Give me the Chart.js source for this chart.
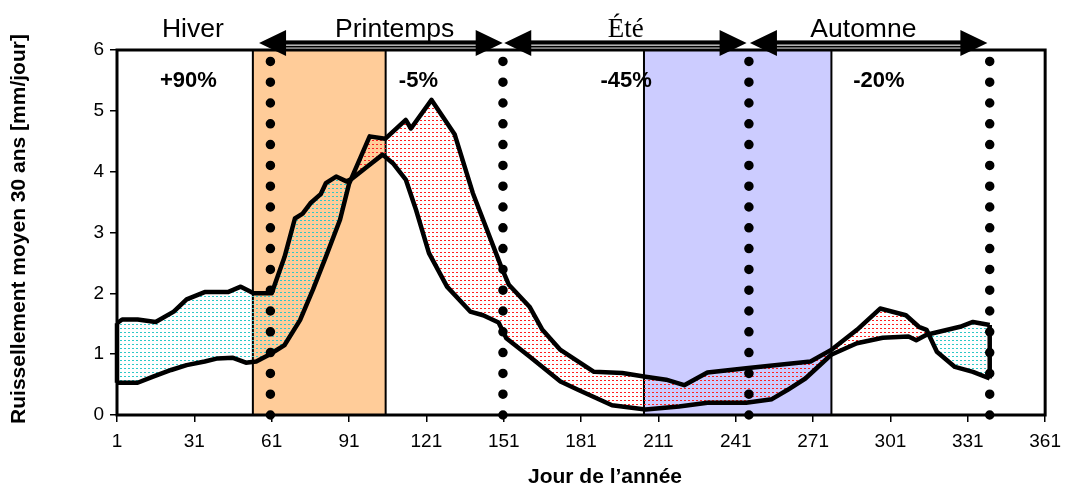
<!DOCTYPE html>
<html lang="fr">
<head>
  <meta charset="UTF-8">
  <title>Ruissellement moyen 30 ans</title>
  <script src="https://cdn.jsdelivr.net/npm/chart.js"></script>
  <style>
    html, body { margin: 0; padding: 0; background: #fff; }
    #wrap { width: 1069px; height: 486px; position: relative; }
  </style>
</head>
<body>
  <div id="wrap"><canvas id="myChart"></canvas></div>

  <script>
    // series A : winter-high curve, series B : winter-low curve
    const dayA = [1, 3, 9, 16, 23, 28, 35, 44, 49, 54, 61, 66, 70, 73, 76, 80, 82, 86, 90, 92,
      98, 104, 108, 113, 117, 122, 129, 138, 143, 149, 152, 161, 173, 180, 193, 206, 219, 230, 245, 255,
      261, 268, 278, 288, 298, 308, 311, 315, 328, 333, 339.5];
    const runoffA = [1.51, 1.57, 1.57, 1.53, 1.70, 1.90, 2.02, 2.02, 2.11, 2.00, 2.00, 2.60, 3.23, 3.31, 3.48, 3.63, 3.81, 3.92, 3.84, 3.88,
      4.08, 4.28, 4.14, 3.87, 3.37, 2.66, 2.11, 1.70, 1.64, 1.52, 1.26, 0.96, 0.55, 0.41, 0.16, 0.09, 0.14, 0.20, 0.20, 0.26,
      0.41, 0.60, 0.99, 1.18, 1.27, 1.29, 1.23, 1.32, 1.45, 1.53, 1.48];

    const dayB = [1, 9, 15, 22, 28, 35, 40, 46, 51, 55, 60, 66, 72, 77, 82, 87.5, 91, 99, 105, 113,
      115, 123, 132, 139, 150, 153, 161, 166, 173, 186, 197, 206, 214, 221, 230, 245, 270, 278, 288, 297,
      307, 312, 315, 319, 326, 333, 339.5];
    const runoffB = [0.53, 0.53, 0.63, 0.74, 0.82, 0.88, 0.93, 0.94, 0.86, 0.88, 0.99, 1.15, 1.56, 2.06, 2.60, 3.21, 3.80, 4.58, 4.54, 4.85,
      4.71, 5.18, 4.61, 3.65, 2.44, 2.14, 1.78, 1.40, 1.07, 0.71, 0.69, 0.63, 0.58, 0.49, 0.70, 0.77, 0.88, 1.07, 1.40, 1.75,
      1.64, 1.45, 1.40, 1.04, 0.79, 0.71, 0.60];

    const xTickValues = [1, 31, 61, 91, 121, 151, 181, 211, 241, 271, 301, 331, 361];

    const seasonNames = ['Hiver', 'Printemps', 'Été', 'Automne'];
    const seasonNameDays = [30.4, 108.7, 198.3, 290.5];
    const seasonChanges = ['+90%', '-5%', '-45%', '-20%'];
    const seasonChangeDays = [28.7, 117.9, 198.5, 296.5];
    const seasonLimits = [60.5, 150.7, 246.1, 339.5];
    const dotTop = 5.84;
    const arrowSpans = [[56.1, 150.6], [151.2, 245.2], [246.5, 338.6]];
    const orangeBand = [53.7, 105.2];
    const blueBand = [205.4, 278.1];

    const SANS = "'Liberation Sans', Arial, Helvetica, sans-serif";
    const SERIF = "'Liberation Serif', 'Times New Roman', serif";

    const canvas = document.getElementById('myChart');
    const ctx = canvas.getContext('2d');

    function dotPattern(color) {
      const tile = document.createElement('canvas');
      tile.width = 4;
      tile.height = 4;
      const g = tile.getContext('2d');
      g.fillStyle = color;
      g.fillRect(0, 0, 2, 1);
      return ctx.createPattern(tile, 'repeat');
    }

    const toXY = (xs, ys) => xs.map((x, i) => ({x: x, y: ys[i]}));

    const dotted = seasonLimits.map(d => ({
      type: 'line',
      data: [{x: d, y: 0}, {x: d, y: dotTop}],
      borderColor: '#000',
      borderWidth: 9.5,
      borderDash: [0, 20.8],
      borderCapStyle: 'round',
      pointRadius: 0,
      fill: false,
      clip: false,
      order: 0
    }));

    // vertical edges that close the shaded area at both ends
    const closures = [0, dayA.length - 1].map((iA, k) => {
      const iB = k === 0 ? 0 : dayB.length - 1;
      return {
        data: [{x: dayA[iA], y: runoffA[iA]}, {x: dayB[iB], y: runoffB[iB]}],
        borderColor: '#000',
        borderWidth: 4.5,
        pointRadius: 0,
        fill: false,
        clip: false,
        order: 1
      };
    });

    const bandsPlugin = {
      id: 'bands',
      beforeDraw(chart) {
        const {ctx, chartArea: a, scales: {x}} = chart;
        [[orangeBand, '#FFCC99'], [blueBand, '#CCCCFF']].forEach(([b, col]) => {
          const x0 = x.getPixelForValue(b[0]);
          const x1 = x.getPixelForValue(b[1]);
          ctx.save();
          ctx.fillStyle = col;
          ctx.fillRect(x0, a.top, x1 - x0, a.bottom - a.top);
          ctx.strokeStyle = '#000';
          ctx.lineWidth = 2;
          ctx.beginPath();
          ctx.moveTo(x0, a.top); ctx.lineTo(x0, a.bottom);
          ctx.moveTo(x1, a.top); ctx.lineTo(x1, a.bottom);
          ctx.stroke();
          ctx.restore();
        });
      },
      beforeDatasetsDraw(chart) {
        const {ctx, chartArea: a} = chart;
        ctx.save();
        ctx.strokeStyle = '#000';
        ctx.lineWidth = 3;
        ctx.strokeRect(a.left, a.top, a.right - a.left, a.bottom - a.top);
        ctx.restore();
      },
      afterDraw(chart) {
        const {ctx, scales: {x}} = chart;
        ctx.save();
        ctx.fillStyle = '#000';
        ctx.textAlign = 'center';
        ctx.textBaseline = 'alphabetic';

        // season names
        seasonNames.forEach((s, i) => {
          ctx.font = (s === 'Été' ? '27px ' + SERIF : '26.5px ' + SANS);
          ctx.fillText(s, x.getPixelForValue(seasonNameDays[i]), 36.5);
        });
        // change in %
        ctx.font = 'bold 22px ' + SANS;
        seasonChanges.forEach((s, i) => {
          ctx.fillText(s, x.getPixelForValue(seasonChangeDays[i]), 86.5);
        });

        // double-headed arrows
        const yA = 44;
        arrowSpans.forEach(([d0, d1]) => {
          const x0 = x.getPixelForValue(d0);
          const x1 = x.getPixelForValue(d1);
          ctx.fillStyle = '#000';
          ctx.fillRect(x0 + 20, yA - 3.6, x1 - x0 - 40, 7.2);
          ctx.fillStyle = '#fff';
          ctx.fillRect(x0 + 24, yA + 0.6, x1 - x0 - 48, 1.1);
          ctx.fillStyle = '#000';
          ctx.beginPath();
          ctx.moveTo(x0, yA - 1); ctx.lineTo(x0 + 27, yA - 14); ctx.lineTo(x0 + 27, yA + 12); ctx.closePath();
          ctx.moveTo(x1, yA - 1); ctx.lineTo(x1 - 27, yA - 14); ctx.lineTo(x1 - 27, yA + 12); ctx.closePath();
          ctx.fill();
        });

        // axis titles
        ctx.font = 'bold 21px ' + SANS;
        ctx.textBaseline = 'middle';
        ctx.fillText('Jour de l\u2019année', 605, 477);
        ctx.translate(19, 229);
        ctx.rotate(-Math.PI / 2);
        ctx.fillText('Ruissellement moyen 30 ans [mm/jour]', 0, 0);
        ctx.restore();
      }
    };

    new Chart(canvas, {
      type: 'line',
      data: {
        datasets: [
          {
            label: 'A',
            data: toXY(dayA, runoffA),
            borderColor: '#000',
            borderWidth: 4.5,
            borderJoinStyle: 'round',
            pointRadius: 0,
            tension: 0,
            fill: {target: 1, above: dotPattern('#2ec8c8'), below: dotPattern('#ff2020')},
            order: 1
          },
          {
            label: 'B',
            data: toXY(dayB, runoffB),
            borderColor: '#000',
            borderWidth: 4.5,
            borderJoinStyle: 'round',
            pointRadius: 0,
            tension: 0,
            fill: false,
            order: 1
          },
          ...closures,
          ...dotted
        ]
      },
      options: {
        responsive: true,
        maintainAspectRatio: false,
        animation: false,
        devicePixelRatio: 1,
        layout: {padding: {top: 50, right: 23, left: 0, bottom: 0}},
        plugins: {
          legend: {display: false},
          tooltip: {enabled: false},
          filler: {drawTime: 'beforeDatasetsDraw'}
        },
        scales: {
          x: {
            type: 'linear',
            min: 1,
            max: 361,
            afterBuildTicks: (scale) => { scale.ticks = xTickValues.map(v => ({value: v})); },
            afterFit: (scale) => { scale.height = 71; },
            border: {display: false},
            grid: {drawOnChartArea: false, tickLength: 7, color: '#000', lineWidth: 1.5},
            ticks: {color: '#000', font: {family: SANS, size: 19}, padding: 8, maxRotation: 0, autoSkip: false}
          },
          y: {
            min: 0,
            max: 6,
            afterFit: (scale) => { scale.width = 117; },
            border: {display: false},
            grid: {drawOnChartArea: false, tickLength: 7, color: '#000', lineWidth: 1.5},
            ticks: {color: '#000', stepSize: 1, font: {family: SANS, size: 19}, padding: 6}
          }
        }
      },
      plugins: [bandsPlugin]
    });
  </script>
</body>
</html>
